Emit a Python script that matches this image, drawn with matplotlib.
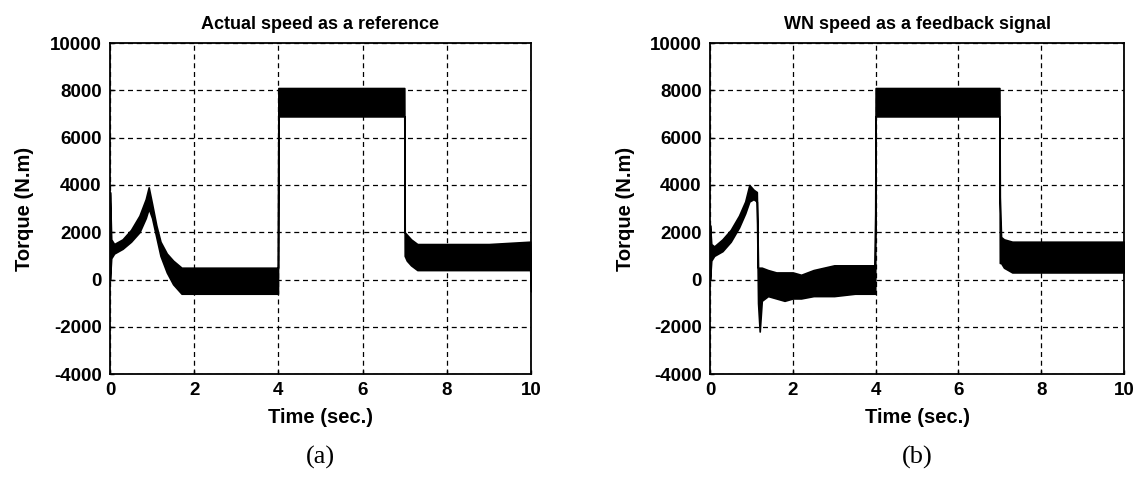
#!/usr/bin/env python

import matplotlib
matplotlib.use('Agg')
import matplotlib.pyplot as plt

FONT_FAMILY = ['Liberation Sans', 'DejaVu Sans']
TICK_SIZE   = 13.5
LABEL_SIZE  = 14.5
TITLE_SIZE  = 13
GRID_STYLE  = (0, (4, 3))

# (a) actual speed as a reference: envelope of the torque band
TIME_A  = [0.0, 0.03, 0.1, 0.3, 0.5, 0.7, 0.85, 0.92, 1.0, 1.1, 1.2, 1.35, 1.5, 1.7,
           2.0, 3.0, 3.99, 4.0, 4.5, 5.5, 6.5, 6.99, 7.0, 7.05, 7.15, 7.3, 8.0, 9.0, 9.98, 10.0]
UPPER_A = [3700, 1700, 1500, 1700, 2100, 2700, 3400, 3900, 3200, 2300, 1600, 1100, 800, 500,
           500, 500, 500, 8100, 8100, 8100, 8100, 8100, 2000, 1900, 1700, 1500, 1500, 1500, 1600, 600]
LOWER_A = [0, 900, 1100, 1300, 1600, 2000, 2600, 3000, 2600, 1800, 1000, 300, -200, -600,
           -600, -600, -600, 6900, 6900, 6900, 6900, 6900, 1000, 800, 600, 400, 400, 400, 400, -500]

# (b) WN speed as a feedback signal
TIME_B  = [0.0, 0.03, 0.1, 0.3, 0.5, 0.7, 0.85, 0.95, 1.05, 1.13, 1.16, 1.2, 1.25, 1.4, 1.6,
           1.8, 2.0, 2.2, 2.5, 3.0, 3.5, 3.97, 3.99, 4.0, 5.0, 6.0, 6.99, 7.0, 7.03, 7.1, 7.3,
           8.0, 9.0, 10.0]
UPPER_B = [2300, 1500, 1400, 1700, 2100, 2700, 3300, 4000, 3800, 3700, 500, 500, 500, 400, 300,
           300, 300, 200, 400, 600, 600, 600, 2800, 8100, 8100, 8100, 8100, 3500, 1800, 1700, 1600,
           1600, 1600, 1600]
LOWER_B = [0, 800, 1000, 1200, 1600, 2200, 2800, 3300, 3400, 3300, -1000, -2200, -900, -700, -800,
           -900, -800, -800, -700, -700, -600, -600, -600, 6900, 6900, 6900, 6900, 700, 700, 500, 300,
           300, 300, 300]

X_TICKS = [0, 2, 4, 6, 8, 10]
Y_TICKS = [-4000, -2000, 0, 2000, 4000, 6000, 8000, 10000]

PANELS = [
    ('Actual speed as a reference',   '(a)', TIME_A, UPPER_A, LOWER_A, [0.0962, 0.219, 0.3684, 0.691]),
    ('WN speed as a feedback signal', '(b)', TIME_B, UPPER_B, LOWER_B, [0.6212, 0.219, 0.3622, 0.691]),
]

plt.rcParams['font.family'] = FONT_FAMILY
plt.rcParams['axes.unicode_minus'] = False

fig = plt.figure(figsize=(11.43, 4.79), dpi=100)

for title, tag, t, upper, lower, rect in PANELS:
    ax = fig.add_axes(rect)
    ax.fill_between(t, lower, upper, color='black', linewidth=1.2, edgecolor='black')

    ax.set_xlim(0, 10)
    ax.set_ylim(-4000, 10000)
    ax.set_xticks(X_TICKS)
    ax.set_yticks(Y_TICKS)
    ax.tick_params(direction='in', length=3, labelsize=TICK_SIZE, width=1, pad=6)
    for lbl in ax.get_xticklabels() + ax.get_yticklabels():
        lbl.set_fontweight('bold')
    ax.grid(True, color='black', linestyle=GRID_STYLE, linewidth=0.9)
    for spine in ax.spines.values():
        spine.set_linewidth(1.3)

    ax.set_title(title, fontsize=TITLE_SIZE, fontweight='bold', pad=10)
    ax.set_xlabel('Time (sec.)', fontsize=LABEL_SIZE, fontweight='bold', labelpad=6)
    ax.set_ylabel('Torque (N.m)', fontsize=LABEL_SIZE, fontweight='bold', labelpad=11)

    cx = rect[0] + rect[2] / 2
    fig.text(cx, 0.045, tag, ha='center', va='center', fontsize=19,
             family=['Liberation Serif', 'DejaVu Serif'])

fig.savefig('out.png', dpi=100)
